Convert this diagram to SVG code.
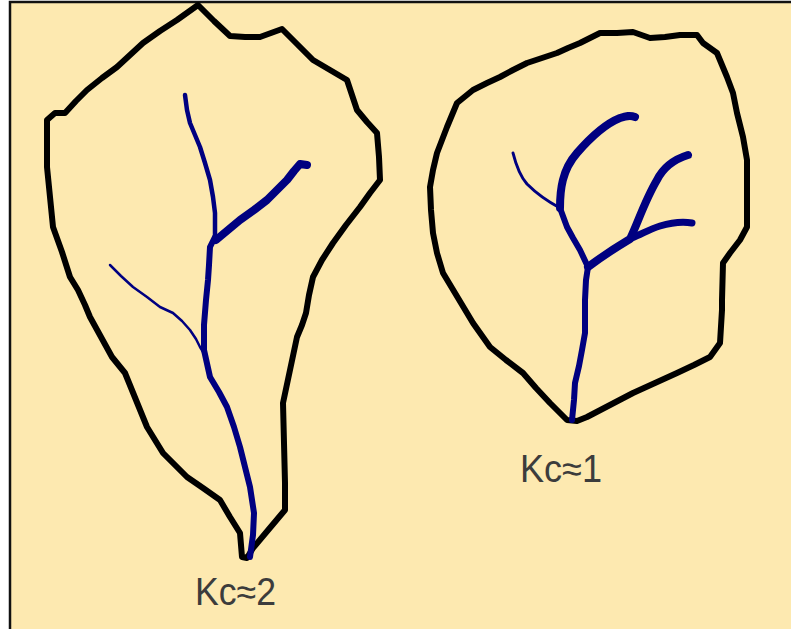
<svg xmlns="http://www.w3.org/2000/svg" width="791" height="629" viewBox="0 0 791 629">
  <style>
    .outline { fill: none; stroke: #000; stroke-width: 6; stroke-linejoin: round; stroke-linecap: round; }
    .river { fill: none; stroke: #000080; stroke-linejoin: round; stroke-linecap: round; }
    .label { font-family: "Liberation Sans", Arial, sans-serif; font-size: 38px; fill: #3c3c3c; }
  </style>
  <!-- page background and frame -->
  <rect x="0" y="0" width="791" height="629" fill="#fff"/>
  <rect x="10" y="2" width="800" height="640" fill="#fde9b0" stroke="#111" stroke-width="2.5"/>

  <!-- elongated basin -->
  <g id="basin-elongated">
    <polygon class="outline" points="198,5 214,21 230,36 245,37 260,37 271,33 282,29 298,45 313,60 330,70 347,80 352,95 357,110 367,122 377,133 379,157 380,180 370,193 360,207 346,225 333,243 322,260 313,277 309,295 306,313 302,325 297,337 290,370 283,403 284,443 285,483 285,510 269,529 253,548 247,558 242,557 240,533 230,517 220,500 203,488 187,477 175,465 163,453 155,440 147,427 136,400 125,373 112,357 101,337 90,317 85,305 78,290 70,277 62,252 53,227 50,197 47,167 47,120 55,113 65,113 76,101 87,90 102,78 117,67 130,55 143,43 160,31 177,20"/>
    <polyline class="river" stroke-width="4.5" points="185,95 187,110 190,123 195,135 200,147 205,163 210,180 213,197 215,213 215,237"/>
    <polyline class="river" stroke-width="6" points="215,237 210,247 209,265 208,280 206,300 204,325 204,350 210,377 219,392 227,407 234,427 240,447 245,467 250,487 254,513 253,535 250,557"/>
    <polyline class="river" stroke-width="8" points="216,240 228,230 240,220 254,210 267,200 277,190 287,180 294,171 300,164 307,165"/>
    <polyline class="river" stroke-width="2.5" points="110,265 121,276 133,287 147,297 160,307 173,313 182,321 190,330 196,339 200,347 205,355"/>
    <text class="label" x="195" y="605" textLength="81" lengthAdjust="spacingAndGlyphs">Kc≈2</text>
  </g>

  <!-- compact basin -->
  <g id="basin-compact">
    <polygon class="outline" points="600,33 617,33 633,32 650,38 665,37 680,35 697,35 703,43 717,53 722,65 727,77 733,93 737,113 743,137 747,160 747,195 747,227 740,240 730,253 723,263 722,300 722,310 720,343 710,357 694,365 677,373 655,383 633,393 610,405 587,417 577,421 567,420 550,403 536,388 523,373 506,360 490,347 473,323 467,313 455,293 443,273 437,253 433,233 431,210 430,187 433,170 437,153 447,127 457,103 473,90 487,83 500,77 513,70 527,63 542,58 557,53 568,48 580,43 590,38"/>
    <polyline class="river" stroke-width="6" points="572,420 574,400 575,383 579,366 582,350 585,333 585,300 586,280 588,267"/>
    <polyline class="river" stroke-width="6" points="588,267 580,250 573,238 567,227 560,208"/>
    <path class="river" stroke-width="8" d="M560,208 C560,190 562,170 577,153 C590,138 605,124 620,118 C626,116 630,115 635,117"/>
    <path class="river" stroke-width="3" d="M513,153 C516,165 520,176 527,184 C535,192 545,200 560,208"/>
    <path class="river" stroke-width="8" d="M588,267 C600,258 615,248 630,239 C637,225 645,200 657,180 C663,168 672,160 688,155"/>
    <path class="river" stroke-width="7" d="M632,238 C642,234 650,229 660,226 C670,223 680,221 692,223"/>
    <text class="label" x="520" y="482" textLength="82" lengthAdjust="spacingAndGlyphs">Kc≈1</text>
  </g>
</svg>
